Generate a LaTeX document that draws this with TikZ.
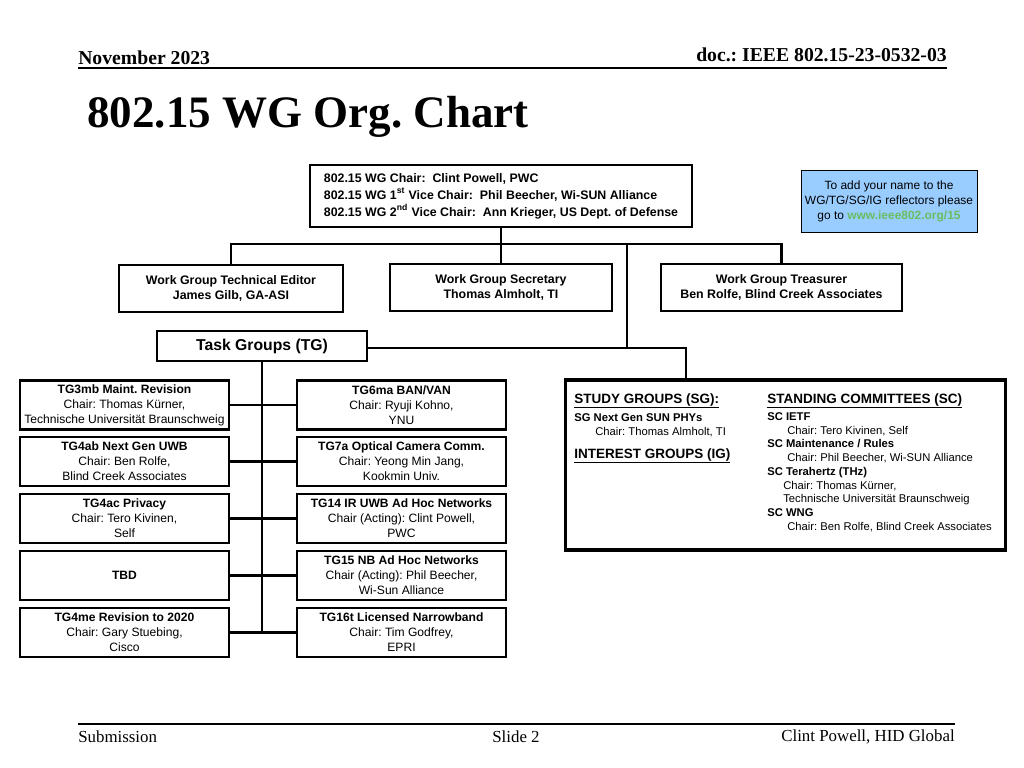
\documentclass[tikz,border=0pt]{standalone}
\usepackage{fontspec}
\setmainfont{Liberation Serif}
\setsansfont{Liberation Sans}
\newcommand\sz[2]{\fontsize{#1}{#2}\selectfont}
\definecolor{notefill}{RGB}{153,204,255}
\definecolor{linkgreen}{RGB}{104,190,96}
\tikzset{
    orgbox/.style={draw, line width=1.9pt, inner sep=0pt, align=center, font=\sffamily\sz{8.6}{10.7}},
    tgbox/.style={orgbox, minimum width=5.225cm, minimum height=1.225cm},
    wgbox/.style={orgbox, font=\sffamily\bfseries\sz{8.8}{10.7}, minimum height=1.175cm},
    link/.style={line width=1.6pt},
    sgtext/.style={anchor=base west, inner sep=0pt, font=\sffamily\sz{8}{9}},
    sghead/.style={anchor=base west, inner sep=0pt, font=\sffamily\bfseries\sz{8}{9}},
    sgtitle/.style={anchor=base west, inner sep=0pt, font=\sffamily\bfseries\sz{9.6}{11}},
    slidetext/.style={inner sep=0pt, font=\sz{12}{14}}
}
\frenchspacing
\begin{document}
\begin{tikzpicture}[x=0.025cm, y=-0.025cm]
    \useasboundingbox (0,0) rectangle (1024,768);

    \node[slidetext, anchor=base west, font=\bfseries\sz{14}{16}] (month) at (78,65) {November 2023};
    \node[slidetext, anchor=base east, font=\bfseries\sz{14}{16}] (docnum) at (947,62) {doc.: IEEE 802.15-23-0532-03};
    \draw[line width=1pt] (78,68) -- (947,68);

    \node[anchor=base west, inner sep=0pt, font=\bfseries\sz{32}{36}] (title) at (87,128) {802.15 WG Org. Chart};

    \node[draw, line width=1.4pt, inner sep=0pt, minimum width=9.55cm, minimum height=1.55cm, align=left,
          font=\sffamily\bfseries\sz{8.8}{12.1}] (chair) at (501,196)
        {802.15 WG Chair:\ \ Clint Powell, PWC\\
         802.15 WG 1\textsuperscript{st} Vice Chair:\ \ Phil Beecher, Wi-SUN Alliance\\
         802.15 WG 2\textsuperscript{nd} Vice Chair:\ \ Ann Krieger, US Dept. of Defense};

    \node[draw, line width=0.6pt, fill=notefill, inner sep=0pt, minimum width=4.4cm, minimum height=1.55cm, align=center,
          font=\sffamily\sz{8.5}{10.7}] (note) at (889,201)
        {To add your name to the\\WG/TG/SG/IG reflectors please\\go to \textcolor{linkgreen}{\bfseries www.ieee802.org/15}};

    \node[wgbox, minimum width=5.6cm] (editor) at (231,288.5) {Work Group Technical Editor\\James Gilb, GA-ASI};
    \node[wgbox, minimum width=5.55cm] (secretary) at (501,287.5) {Work Group Secretary\\Thomas Almholt, TI};
    \node[wgbox, minimum width=6.025cm] (treasurer) at (781.5,287.5) {Work Group Treasurer\\Ben Rolfe, Blind Creek Associates};

    \coordinate (wgbus) at (501,244);
    \draw[link] (chair.south) -- (wgbus);
    \draw[link] (editor.north) |- (wgbus) -| (treasurer.north);
    \draw[link] (wgbus) -- (secretary.north);

    \node[orgbox, font=\sffamily\bfseries\sz{11.2}{12}, minimum width=5.25cm, minimum height=0.75cm] (tg) at (262,346) {Task Groups (TG)};

    \node[orgbox, line width=2.2pt, minimum width=10.975cm, minimum height=4.25cm] (sg) at (785.5,465) {};
    \coordinate (tgbus) at (627,348);
    \coordinate (sgturn) at (686,348);
    \draw[link] (627,244) -- (tgbus);
    \draw[link] (tg.east |- tgbus) -- (sgturn) -- (sgturn |- sg.north);

    \node[tgbox] (tgthreemb) at (124.5,405) {\textbf{TG3mb Maint. Revision}\\Chair: Thomas Kürner,\\Technische Universität Braunschweig};
    \node[tgbox] (tgsixma) at (401.5,405) {\textbf{TG6ma BAN/VAN}\\Chair: Ryuji Kohno,\\YNU};
    \node[tgbox] (tgfourab) at (124.5,461.5) {\textbf{TG4ab Next Gen UWB}\\Chair: Ben Rolfe,\\Blind Creek Associates};
    \node[tgbox] (tgsevena) at (401.5,461.5) {\textbf{TG7a Optical Camera Comm.}\\Chair: Yeong Min Jang,\\Kookmin Univ.};
    \node[tgbox] (tgfourac) at (124.5,518.5) {\textbf{TG4ac Privacy}\\Chair: Tero Kivinen,\\Self};
    \node[tgbox] (tgfourteen) at (401.5,518.5) {\textbf{TG14 IR UWB Ad Hoc Networks}\\Chair (Acting): Clint Powell,\\PWC};
    \node[tgbox] (tbd) at (124.5,575.5) {\textbf{TBD}};
    \node[tgbox] (tgfifteen) at (401.5,575.5) {\textbf{TG15 NB Ad Hoc Networks}\\Chair (Acting): Phil Beecher,\\Wi-Sun Alliance};
    \node[tgbox] (tgfourme) at (124.5,632.5) {\textbf{TG4me Revision to 2020}\\Chair: Gary Stuebing,\\Cisco};
    \node[tgbox] (tgsixteent) at (401.5,632.5) {\textbf{TG16t Licensed Narrowband}\\Chair: Tim Godfrey,\\EPRI};

    \draw[link] (tg.south) -- (tg.south |- tgfourme.east);
    \draw[link] (tgthreemb.east) -- (tgsixma.west);
    \draw[link] (tgfourab.east) -- (tgsevena.west);
    \draw[link] (tgfourac.east) -- (tgfourteen.west);
    \draw[link] (tbd.east) -- (tgfifteen.west);
    \draw[link] (tgfourme.east) -- (tgsixteent.west);

    \node[sgtitle] (sghead) at (574,403) {\underline{STUDY GROUPS (SG):}};
    \node[sghead] (sgsun) at (574,421) {SG Next Gen SUN PHYs};
    \node[sgtext] (sgsunchair) at (595,435) {Chair: Thomas Almholt, TI};
    \node[sgtitle] (ighead) at (574,458) {\underline{INTEREST GROUPS (IG)}};

    \node[sgtitle] (schead) at (767,403) {\underline{STANDING COMMITTEES (SC)}};
    \node[sghead] (scietf) at (767,420) {SC IETF};
    \node[sgtext] (scietfchair) at (787,434) {Chair: Tero Kivinen, Self};
    \node[sghead] (scmaint) at (767,447) {SC Maintenance / Rules};
    \node[sgtext] (scmaintchair) at (787,461) {Chair: Phil Beecher, Wi-SUN Alliance};
    \node[sghead] (scthz) at (767,475) {SC Terahertz (THz)};
    \node[sgtext] (scthzchair) at (783,489) {Chair: Thomas Kürner,};
    \node[sgtext] (scthzorg) at (783,502) {Technische Universität Braunschweig};
    \node[sghead] (scwng) at (767,516) {SC WNG};
    \node[sgtext] (scwngchair) at (787,530) {Chair: Ben Rolfe, Blind Creek Associates};

    \draw[line width=1pt] (78,724) -- (955,724);
    \node[slidetext, anchor=base west] (submission) at (78,742) {Submission};
    \node[slidetext, anchor=base] (slide) at (516,742) {Slide 2};
    \node[slidetext, anchor=base east] (author) at (955,741) {Clint Powell, HID Global};
\end{tikzpicture}
\end{document}
